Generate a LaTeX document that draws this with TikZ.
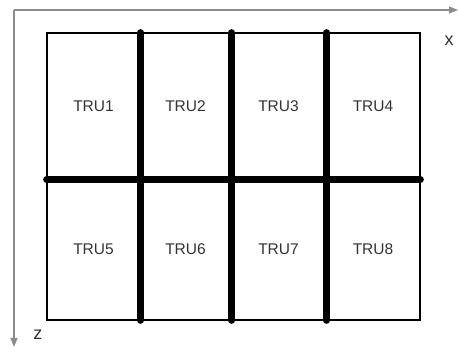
\documentclass[tikz,border=0pt]{standalone}
\usepackage{fontspec}
\setmainfont{Liberation Sans}
\usepackage{tikz}
\usetikzlibrary{arrows.meta, positioning}
\usepackage{xcolor}
\definecolor{axisgray}{HTML}{8C8C8C}
\definecolor{textgray}{HTML}{333333}

\begin{document}
\begin{tikzpicture}[x=1pt, y=-1pt, >={Triangle[length=9pt, width=7pt]},
    cell/.style={draw, line width=1.2pt, minimum height=#1, inner sep=0pt,
      font=\fontsize{15.5}{17}\selectfont, text=textgray},
    divider/.style={line width=6.5pt, line cap=round}]
  \useasboundingbox (0,0) rectangle (459,352);

  % Axes
  \coordinate (origin) at (14,10);
  \coordinate (xtip) at (458,10);
  \coordinate (ztip) at (14,347);
  \draw[->, axisgray, line width=1.4pt] (origin) -- (xtip);
  \draw[->, axisgray, line width=1.4pt] (origin) -- (ztip);
  \node[font=\fontsize{18}{20}\selectfont, text=textgray] (xlabel) at (449,41) {x};
  \node[font=\fontsize{18}{20}\selectfont, text=textgray] (zlabel) at (38,335) {z};

  % Cells, upper and lower row
  \foreach \xa/\xb/\i in {47/140/1, 140/231/2, 231/326/3, 326/420/4} {
    \pgfmathtruncatemacro\j{\i+4}
    \node[cell=146pt, minimum width={(\xb-\xa)*1pt}] (tru\i)
      at ({(\xa+\xb)/2}, 106) {TRU\i};
    \node[cell=141pt, minimum width={(\xb-\xa)*1pt}] (tru\j)
      at ({(\xa+\xb)/2}, 249.5) {TRU\j};
  }

  % Thick dividers
  \foreach \i/\j in {1/5, 2/6, 3/7}
    \draw[divider] (tru\i.north east) -- (tru\j.south east);
  \draw[divider] (tru1.south west) -- (tru4.south east);
\end{tikzpicture}
\end{document}
